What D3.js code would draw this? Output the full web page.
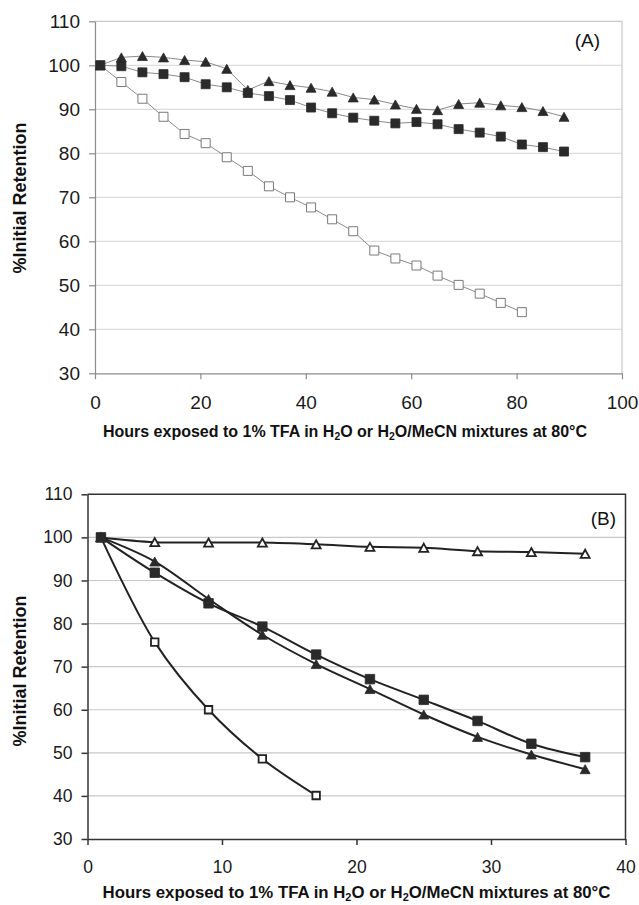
<!DOCTYPE html>
<html>
<head>
<meta charset="utf-8">
<script src="https://cdn.jsdelivr.net/npm/d3@7"></script>
<style>
    body { margin: 0; background: #fff; }
    text { font-family: "Liberation Sans", Arial, sans-serif; }
</style>
</head>
<body>
<div id="chart"></div>
<script>
// Data - panel A
const hoursA = [1, 5, 9, 13, 17, 21, 25, 29, 33, 37, 41, 45, 49, 53, 57, 61, 65, 69, 73, 77, 81, 85, 89]
const openSqA = [100, 96.2, 92.4, 88.3, 84.4, 82.3, 79.1, 76.0, 72.5, 70.0, 67.7, 65.0, 62.3, 57.9, 56.1, 54.5, 52.2, 50.1, 48.1, 46.0, 43.9]
const filledSqA = [100, 99.8, 98.4, 98.0, 97.3, 95.7, 95.0, 93.7, 93.0, 92.1, 90.4, 89.1, 88.1, 87.4, 86.8, 87.1, 86.6, 85.5, 84.7, 83.8, 82.0, 81.4, 80.4]
const filledTriA = [100, 101.8, 102.1, 101.8, 101.2, 100.8, 99.2, 94.4, 96.4, 95.5, 94.9, 94.0, 92.7, 92.2, 91.1, 90.1, 89.8, 91.2, 91.5, 90.9, 90.5, 89.6, 88.3]

// Data - panel B
const hoursB = [1, 5, 9, 13, 17, 21, 25, 29, 33, 37]
const openTriB = [100, 98.9, 98.8, 98.8, 98.4, 97.8, 97.6, 96.8, 96.6, 96.2]
const filledTriB = [100, 94.4, 85.7, 77.4, 70.6, 64.8, 58.9, 53.7, 49.6, 46.2]
const filledSqB = [100, 91.8, 84.7, 79.3, 72.8, 67.1, 62.3, 57.4, 52.1, 49.0]
const openSqB = [100, 75.7, 60.0, 48.6, 40.1]

const yTicks = [30, 40, 50, 60, 70, 80, 90, 100, 110]
const xTicksA = [0, 20, 40, 60, 80, 100]
const xTicksB = [0, 10, 20, 30, 40]

const yTitle = "%Initial Retention"

// Constants
const width = 639
const height = 905

const svg = d3.select("#chart")
    .append("svg")
    .attr("width", width)
    .attr("height", height)

// Panel layouts
const panelA = { left: 95, right: 622, top: 21.3, bottom: 373.3, xMax: 100, tag: "(A)",
    axisColor: "#8c8c8c", frameColor: "#c8c8c8", gridColor: "#dcdcdc", lineColor: "#8a8a8a", lineWidth: 1,
    tickFont: 19, tickPadX: 16.5, titleFont: 16, titleX: 345, titleY: 436.5, yTitleY: 198, tagX: 600, tagY: 47, tagFont: 19 }
const panelB = { left: 87.5, right: 625.5, top: 494.3, bottom: 839, xMax: 40, tag: "(B)",
    axisColor: "#333", frameColor: "#333", gridColor: "#c8c8c8", lineColor: "#222", lineWidth: 2,
    tickFont: 17.5, tickPadX: 16, titleFont: 16.8, titleX: 356.5, titleY: 898, yTitleY: 671, tagX: 616, tagY: 525, tagFont: 19 }

const buildPanel = (p, xTicks) => {
    const x = d3.scaleLinear().domain([0, p.xMax]).range([p.left, p.right])
    const y = d3.scaleLinear().domain([30, 110]).range([p.bottom, p.top])
    const g = svg.append("g")

    // Gridlines
    g.append("g").selectAll("line")
        .data(yTicks.filter(d => d > 30 && d < 110))
        .join("line")
        .attr("x1", p.left).attr("x2", p.right)
        .attr("y1", d => y(d)).attr("y2", d => y(d))
        .style("stroke", p.gridColor)
        .style("stroke-width", 1.2)

    // Frame top / right
    g.append("path")
        .attr("d", `M${p.left},${y(110)}H${p.right}V${y(30)}`)
        .style("fill", "none")
        .style("stroke", p.frameColor)
        .style("stroke-width", p === panelB ? 1.5 : 1.2)

    // Axes
    const yAxisGroup = g.append("g").attr("transform", `translate(${p.left},0)`)
        .call(d3.axisLeft(y).tickValues(yTicks).tickSize(6).tickSizeOuter(0).tickPadding(9))
    const xAxisGroup = g.append("g").attr("transform", `translate(0,${p.bottom})`)
        .call(d3.axisBottom(x).tickValues(xTicks).tickSize(6).tickSizeOuter(0).tickPadding(p.tickPadX))

    ;[yAxisGroup, xAxisGroup].forEach(ax => {
        ax.selectAll("line").style("stroke", p.axisColor).style("stroke-width", p === panelB ? 1.5 : 1.2)
        ax.select(".domain").style("stroke", p.axisColor).style("stroke-width", p === panelB ? 1.5 : 1.2)
        ax.selectAll("text")
            .style("font-size", p.tickFont + "px")
            .style("font-family", "'Liberation Sans', Arial, sans-serif")
            .style("fill", "#1a1a1a")
    })

    // Axis titles
    const sub = p.titleFont * 0.65
    const xt = g.append("text")
        .attr("x", p.titleX).attr("y", p.titleY)
        .attr("text-anchor", "middle")
        .style("font-size", p.titleFont + "px")
        .style("font-weight", "bold")
        .style("fill", "#111")
    xt.append("tspan").text("Hours exposed to 1% TFA in H")
    xt.append("tspan").attr("dy", 3).style("font-size", sub + "px").text("2")
    xt.append("tspan").attr("dy", -3).text("O or H")
    xt.append("tspan").attr("dy", 3).style("font-size", sub + "px").text("2")
    xt.append("tspan").attr("dy", -3).text("O/MeCN mixtures at 80°C")

    g.append("text")
        .attr("transform", `translate(26,${p.yTitleY}) rotate(-90)`)
        .attr("text-anchor", "middle")
        .style("font-size", "18px")
        .style("font-weight", "bold")
        .style("fill", "#111")
        .text(yTitle)

    g.append("text")
        .attr("x", p.tagX).attr("y", p.tagY)
        .attr("text-anchor", "end")
        .style("font-size", p.tagFont + "px")
        .style("fill", "#111")
        .text(p.tag)

    return { g, x, y }
}

const A = buildPanel(panelA, xTicksA)
const B = buildPanel(panelB, xTicksB)

// Series lines and markers
const drawSeries = (panel, p, hours, values, shape, filled, size, curve) => {
    const pts = values.map((v, i) => ({ h: hours[i], v }))
    const line = d3.line().x(d => panel.x(d.h)).y(d => panel.y(d.v)).curve(curve)
    panel.g.append("path")
        .datum(pts)
        .attr("d", line)
        .style("fill", "none")
        .style("stroke", p.lineColor)
        .style("stroke-width", p.lineWidth)

    const markStroke = filled ? "#2a2a2a" : (p === panelA ? "#7a7a7a" : "#222")
    const sel = panel.g.append("g").selectAll("path")
        .data(pts)
        .join("path")
        .attr("transform", d => `translate(${panel.x(d.h)},${panel.y(d.v)})`)
        .style("fill", filled ? "#2a2a2a" : "#fff")
        .style("stroke", markStroke)
        .style("stroke-width", filled ? 0.8 : (p === panelA ? 1 : 1.8))
    if (shape === "square") {
        const s = size / 2
        sel.attr("d", `M${-s},${-s}H${s}V${s}H${-s}Z`)
    } else {
        const w = size / 2, h = size * 0.45
        sel.attr("d", `M0,${-h}L${w},${h}L${-w},${h}Z`)
    }
}

drawSeries(A, panelA, hoursA, openSqA, "square", false, 9, d3.curveLinear)
drawSeries(A, panelA, hoursA, filledTriA, "triangle", true, 10, d3.curveLinear)
drawSeries(A, panelA, hoursA, filledSqA, "square", true, 9, d3.curveLinear)

const smooth = d3.curveCatmullRom.alpha(0.5)
drawSeries(B, panelB, hoursB, openTriB, "triangle", false, 9, smooth)
drawSeries(B, panelB, hoursB, openSqB, "square", false, 7.5, smooth)
drawSeries(B, panelB, hoursB, filledTriB, "triangle", true, 10, smooth)
drawSeries(B, panelB, hoursB, filledSqB, "square", true, 9.5, smooth)
</script>
</body>
</html>
